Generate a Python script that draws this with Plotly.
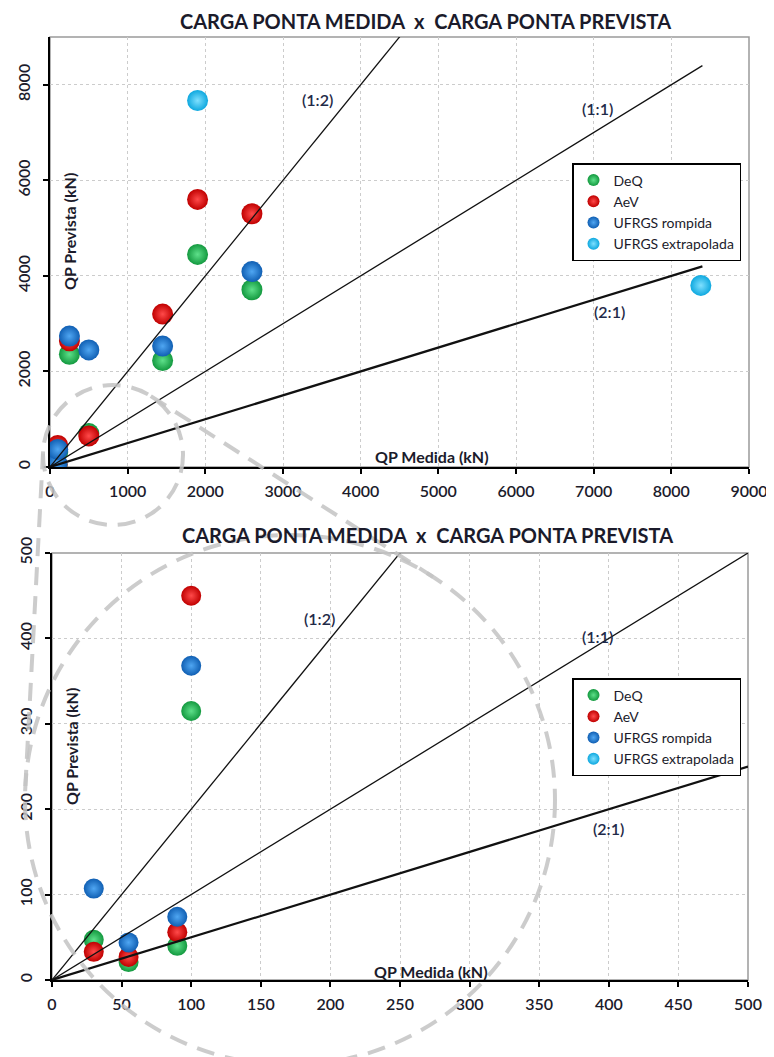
import numpy as np
import plotly.graph_objects as go

# page body has an 8px margin: figure is drawn from (8, 8) of the 774x1057 view
OFF = 8
W, H = 774 - OFF, 1057 - OFF

# ---------------- data ----------------
series_names = ["DeQ", "AeV", "UFRGS rompida", "UFRGS extrapolada"]
deq_x = [30, 55, 90, 100, 250, 500, 1450, 1900, 2600]
deq_y = [47, 21, 40, 315, 2360, 700, 2230, 4450, 3710]
aev_x = [30, 55, 90, 100, 250, 500, 1450, 1900, 2600]
aev_y = [33, 27, 56, 450, 2640, 650, 3200, 5600, 5300]
ufr_x = [30, 55, 90, 100, 250, 500, 1450, 2600]
ufr_y = [107, 44, 74, 368, 2740, 2450, 2530, 4090]
ufe_x = [1900, 8380]
ufe_y = [7670, 3800]

ratio_labels = ["(1:2)", "(1:1)", "(2:1)"]
ratio_factors = [2.0, 1.0, 0.5]
top_line_x = [0, 8400]
bottom_line_x = [0, 500]

title_text = "CARGA PONTA MEDIDA  x  CARGA PONTA PREVISTA"
xtitle_text = "QP Medida (kN)"
ytitle_text = "QP Prevista (kN)"

# ---------------- styles ----------------
FONT = "Lato"
TXT = "#1b1b2b"
colors = {
    "DeQ": ("#13993f", "#5ee08a"),
    "AeV": ("#c00000", "#ff4a4a"),
    "UFRGS rompida": ("#105fb3", "#4fa6f2"),
    "UFRGS extrapolada": ("#0ea8df", "#7fe0ff"),
}
data = {
    "DeQ": (deq_x, deq_y),
    "AeV": (aev_x, aev_y),
    "UFRGS rompida": (ufr_x, ufr_y),
    "UFRGS extrapolada": (ufe_x, ufe_y),
}


def px(xp):
    return (xp - OFF) / W


def py(yp):
    return 1 - (yp - OFF) / H


fig = go.Figure()

panels = [
    dict(xa="x", ya="y", lg="legend", size=21, line_x=top_line_x,
         lab_pos=[(3450, 7700), (7050, 7500), (7200, 3250)]),
    dict(xa="x2", ya="y2", lg="legend2", size=20, line_x=bottom_line_x,
         lab_pos=[(192, 423), (392, 402), (400, 177)]),
]

for p in panels:
    for name in series_names:
        xs, ys = data[name]
        edge, center = colors[name]
        fig.add_trace(go.Scatter(
            x=xs, y=ys, mode="markers", name=name,
            xaxis=p["xa"], yaxis=p["ya"], legend=p["lg"],
            marker=dict(size=p["size"], color=edge,
                        gradient=dict(type="radial", color=center),
                        line=dict(width=0)),
            hoverinfo="x+y+name",
        ))
    for f, w in zip(ratio_factors, [1.3, 1.3, 2.2]):
        lx = np.array(p["line_x"], dtype=float)
        fig.add_trace(go.Scatter(
            x=lx, y=lx * f, mode="lines", showlegend=False,
            xaxis=p["xa"], yaxis=p["ya"],
            line=dict(color="#111111", width=w), hoverinfo="skip",
        ))

axis_common = dict(
    showline=True, linecolor="black", linewidth=2,
    ticks="outside", ticklen=5, tickwidth=1.5, tickcolor="black",
    showgrid=True, gridcolor="#cccccc", griddash="dot", gridwidth=1,
    zeroline=False, fixedrange=True,
    tickfont=dict(family=FONT, size=16, color=TXT, weight=600),
)

fig.update_layout(
    width=W, height=H,
    margin=dict(l=0, r=0, t=0, b=0, autoexpand=False),
    paper_bgcolor="white", plot_bgcolor="white",
    xaxis=dict(domain=[px(50), px(749)], range=[0, 9000], dtick=1000,
               anchor="y", ticklabelstandoff=4, **axis_common),
    yaxis=dict(domain=[py(467), py(37)], range=[0, 9000], dtick=2000,
               anchor="x", tickangle=-90, ticklabelstandoff=7, **axis_common),
    xaxis2=dict(domain=[px(52), px(748)], range=[0, 500], dtick=50,
                anchor="y2", ticklabelstandoff=4, **axis_common),
    yaxis2=dict(domain=[py(980), py(553)], range=[0, 500], dtick=100,
                anchor="x2", tickangle=-90, ticklabelstandoff=7, **axis_common),
    showlegend=True,
)

leg_common = dict(
    xanchor="left", yanchor="top", bgcolor="white",
    bordercolor="black", borderwidth=1.5,
    font=dict(family=FONT, size=14, color=TXT),
    itemsizing="constant", tracegroupgap=0,
)
fig.update_layout(
    legend=dict(x=px(572), y=py(163), **leg_common),
    legend2=dict(x=px(572), y=py(678), **leg_common),
)

annotations = []
shapes = []
for p, (tx, ty), (axx, axy), (ayx, ayy) in zip(
        panels,
        [(425, 21), (427, 535)],
        [(432, 457), (431, 971)],
        [(70, 232), (71, 746)]):
    annotations.append(dict(
        text=title_text, x=px(tx), y=py(ty), xref="paper", yref="paper",
        showarrow=False, xanchor="center", yanchor="middle",
        font=dict(family=FONT, size=20, color=TXT, weight="bold")))
    annotations.append(dict(
        text=xtitle_text, x=px(axx), y=py(axy), xref="paper", yref="paper",
        showarrow=False, xanchor="center", yanchor="middle",
        font=dict(family=FONT, size=16, color=TXT, weight="bold")))
    annotations.append(dict(
        text=ytitle_text, x=px(ayx), y=py(ayy), xref="paper", yref="paper",
        showarrow=False, xanchor="center", yanchor="middle", textangle=-90,
        font=dict(family=FONT, size=16, color=TXT, weight="bold")))
    for lab, (lx, ly) in zip(ratio_labels, p["lab_pos"]):
        annotations.append(dict(
            text=lab, x=lx, y=ly, xref=p["xa"], yref=p["ya"],
            showarrow=False, xanchor="center", yanchor="middle",
            font=dict(family=FONT, size=16, color="#1f2a48", weight=600)))
    # grey frame (top/right border)
    shapes.append(dict(
        type="rect", xref=p["xa"] + " domain", yref=p["ya"] + " domain",
        x0=0, x1=1, y0=0, y1=1, layer="below",
        line=dict(color="#9a9a9a", width=1.5)))

# ---- magnifier callout (dashed grey circles + tangent lines) ----
DASH = dict(color="rgba(195,195,195,0.85)", width=4, dash="18px,11px")
c1 = np.array([113.0, 455.0]); r1 = 70.0
c2 = np.array([290.0, 800.0]); r2 = 265.0
for c, r in [(c1, r1), (c2, r2)]:
    shapes.append(dict(
        type="circle", xref="paper", yref="paper", layer="above",
        x0=px(c[0] - r), x1=px(c[0] + r), y0=py(c[1] + r), y1=py(c[1] - r),
        line=DASH, fillcolor="rgba(0,0,0,0)"))

d = c2 - c1
dist = np.hypot(*d)
base = np.arctan2(d[1], d[0])
alpha = np.arccos((r1 - r2) / dist)
for sgn in (1, -1):
    ang = base + sgn * alpha
    n = np.array([np.cos(ang), np.sin(ang)])
    p1 = c1 + r1 * n
    p2 = c2 + r2 * n
    shapes.append(dict(
        type="line", xref="paper", yref="paper", layer="above",
        x0=px(p1[0]), y0=py(p1[1]), x1=px(p2[0]), y1=py(p2[1]), line=DASH))

fig.update_layout(annotations=annotations, shapes=shapes)

fig.write_html("out.html")
